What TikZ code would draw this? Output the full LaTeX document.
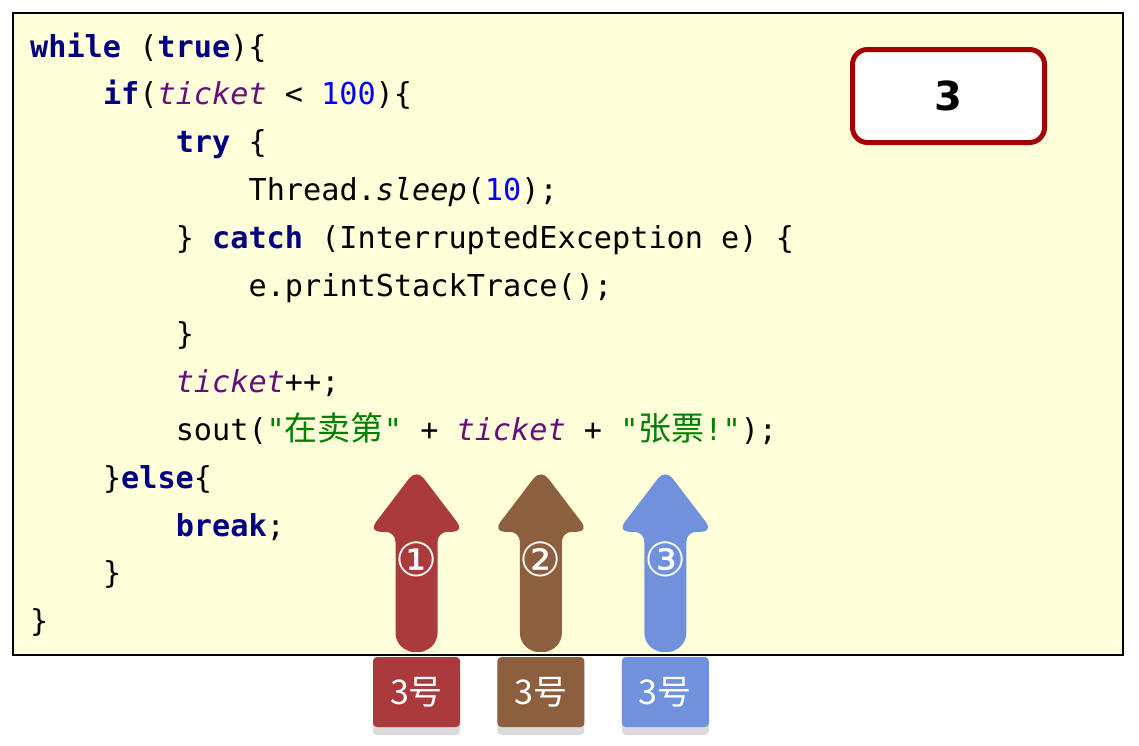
\documentclass[tikz,border=0pt]{standalone}
\usepackage{fontspec}
\setmonofont{DejaVu Sans Mono}
\newfontfamily\dejavu{DejaVu Sans}
\newfontfamily\cjk{Noto Sans CJK SC}
\usepackage{tikz}
\usetikzlibrary{positioning, shadows}

\definecolor{codebg}{RGB}{255,255,217}
\definecolor{kwblue}{RGB}{0,0,128}
\definecolor{fieldpurple}{RGB}{102,14,122}
\definecolor{numblue}{RGB}{0,0,255}
\definecolor{strgreen}{RGB}{0,128,0}
\definecolor{boxred}{RGB}{165,0,0}
\definecolor{threadred}{RGB}{170,58,60}
\definecolor{threadbrown}{RGB}{140,96,62}
\definecolor{threadblue}{RGB}{112,146,220}

\newcommand{\kw}[1]{\textcolor{kwblue}{\bfseries #1}}
\newcommand{\fld}[1]{\textcolor{fieldpurple}{\itshape #1}}
\newcommand{\num}[1]{\textcolor{numblue}{#1}}
\newcommand{\str}[1]{\textcolor{strgreen}{#1}}
\newcommand{\zh}[1]{{\cjk\fontsize{33}{40}\selectfont #1}}

\begin{document}
\begin{tikzpicture}[x=1pt, y=-1pt, node distance=37pt,
  code line/.style={anchor=base west, inner sep=0pt,
    font=\ttfamily\fontsize{30.2}{36}\selectfont},
  ticket box/.style={draw=boxred, line width=5pt, fill=white, rounded corners=15pt,
    minimum width=192pt, minimum height=93pt, font=\dejavu\bfseries\fontsize{40}{44}\selectfont},
  thread label/.style={rounded corners=4pt, minimum width=87pt, minimum height=70pt,
    text=white, font=\cjk\fontsize{34}{38}\selectfont,
    drop shadow={shadow xshift=0pt, shadow yshift=-8pt, fill=black!14, opacity=1}},
  thread arrow/.style={rounded corners=12pt},
  circled num/.style={text=white, inner sep=0pt, font=\dejavu\fontsize{47}{50}\selectfont}]

\useasboundingbox (0,0) rectangle (1139,745);
\fill[white] (0,0) rectangle (1139,745);
\draw[fill=codebg, line width=1.5pt] (13,13) rectangle (1123,655);

% code
\node[code line] (line1)  at (30, 57)     {\kw{while} (\kw{true})\{};
\node[code line] (line2)  at (102.8, 104.9) {\kw{if}(\fld{ticket} < \num{100})\{};
\node[code line] (line3)  at (175.6, 152.8) {\kw{try} \{};
\node[code line] (line4)  at (248.4, 200.7) {Thread.\textit{sleep}(\num{10});};
\node[code line] (line5)  at (175.6, 248.6) {\} \kw{catch} (InterruptedException e) \{};
\node[code line] (line6)  at (248.4, 296.5) {e.printStackTrace();};
\node[code line] (line7)  at (175.6, 344.4) {\}};
\node[code line] (line8)  at (175.6, 392.3) {\fld{ticket}++;};
\node[code line] (line9)  at (175.6, 440.2) {sout(\str{"\zh{在卖第}"} + \fld{ticket} + \str{"\zh{张票}!"});};
\node[code line] (line10) at (102.8, 488.1) {\}\kw{else}\{};
\node[code line] (line11) at (175.6, 536)   {\kw{break};};
\node[code line] (line12) at (102.8, 583.9) {\}};
\node[code line] (line13) at (30, 631.8)    {\}};

% current ticket
\node[ticket box] (count) at (948.5, 96) {3};

% threads
\node[thread label, fill=threadred] (tk1) at (416.5, 692) {3号};
\node[thread label, fill=threadbrown] (tk2) [right=of tk1] {3号};
\node[thread label, fill=threadblue] (tk3) [right=of tk2] {3号};

\fill[threadred, thread arrow, shift={(tk1.north)}]
  (0,-5) [rounded corners=19pt] -- (21,-5) [rounded corners=10pt] -- (21,-125) [rounded corners=12pt] -- (48,-125)
  -- (0,-188) -- (-48,-125) [rounded corners=10pt] -- (-21,-125) [rounded corners=19pt] -- (-21,-5) -- cycle;
\fill[threadbrown, thread arrow, shift={(tk2.north)}]
  (0,-5) [rounded corners=19pt] -- (21,-5) [rounded corners=10pt] -- (21,-125) [rounded corners=12pt] -- (48,-125)
  -- (0,-188) -- (-48,-125) [rounded corners=10pt] -- (-21,-125) [rounded corners=19pt] -- (-21,-5) -- cycle;
\fill[threadblue, thread arrow, shift={(tk3.north)}]
  (0,-5) [rounded corners=19pt] -- (21,-5) [rounded corners=10pt] -- (21,-125) [rounded corners=12pt] -- (48,-125)
  -- (0,-188) -- (-48,-125) [rounded corners=10pt] -- (-21,-125) [rounded corners=19pt] -- (-21,-5) -- cycle;

\node[circled num] (num1) at ([yshift=97pt]tk1.north) {①};
\node[circled num] (num2) at ([yshift=97pt]tk2.north) {②};
\node[circled num] (num3) at ([yshift=97pt]tk3.north) {③};

\end{tikzpicture}
\end{document}
